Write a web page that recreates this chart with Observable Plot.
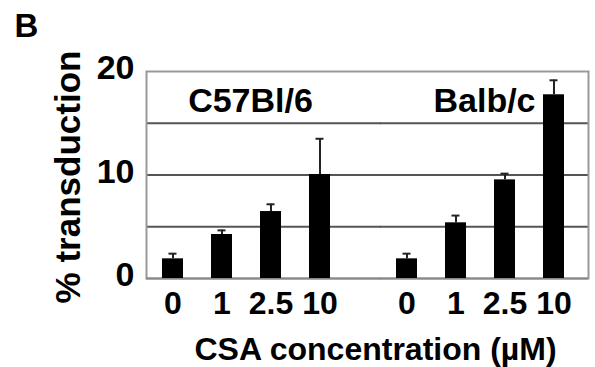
<!DOCTYPE html>
<html>
<head>
<meta charset="utf-8">
<script src="https://cdn.jsdelivr.net/npm/d3@7"></script>
<script src="https://cdn.jsdelivr.net/npm/@observablehq/plot@0.6"></script>
<style>
  html, body { margin: 0; padding: 0; background: #fff; }
  #chart svg { display: block; }
</style>
</head>
<body>
<div id="chart"></div>
<script>
const strains = ["C57Bl/6", "Balb/c"];
const concentrations = ["0", "1", "2.5", "10"];
const c57Values = [1.9, 4.25, 6.47, 10.05];
const c57Errors = [0.5, 0.4, 0.7, 3.45];
const balbValues = [1.9, 5.38, 9.53, 17.75];
const balbErrors = [0.5, 0.7, 0.6, 1.4];
const yTicks = [0, 10, 20];
const gridValues = [5, 10, 15];

const rows = [];
concentrations.forEach((c, i) => rows.push({strain: strains[0], conc: c, value: c57Values[i], err: c57Errors[i]}));
concentrations.forEach((c, i) => rows.push({strain: strains[1], conc: c, value: balbValues[i], err: balbErrors[i]}));

const font = "'Liberation Sans', Arial, sans-serif";
const gap = 27;

const chart = Plot.plot({
  width: 595,
  height: 367,
  marginLeft: 145,
  marginRight: 6,
  marginTop: 71,
  marginBottom: 89,
  style: {fontFamily: font, background: "#fff", color: "#000"},
  fx: {domain: strains, paddingInner: 0.1106, paddingOuter: 0, axis: null, label: null},
  x: {domain: concentrations, paddingInner: 0.577, paddingOuter: 0.391, align: 0.4, axis: null, label: null},
  y: {domain: [0, 20], axis: null, label: null},
  marks: [
    Plot.ruleY(gridValues, {fx: () => strains[0], insetRight: -gap, stroke: "#555", strokeWidth: 2}),
    Plot.ruleY(gridValues, {fx: () => strains[1], stroke: "#555", strokeWidth: 2}),
    Plot.frame({facet: "super", stroke: "#999", strokeWidth: 2}),
    Plot.ruleY([0], {fx: () => strains[0], insetRight: -gap, stroke: "#888", strokeWidth: 2}),
    Plot.ruleY([0], {fx: () => strains[1], stroke: "#888", strokeWidth: 2}),
    Plot.ruleX(rows, {fx: "strain", x: "conc", y1: "value", y2: d => d.value + d.err, stroke: "#222", strokeWidth: 2}),
    Plot.tickY(rows, {fx: "strain", x: "conc", y: d => d.value + d.err, stroke: "#222", strokeWidth: 2, insetLeft: 6.5, insetRight: 6.5}),
    Plot.barY(rows, {fx: "strain", x: "conc", y: "value", fill: "#000"}),
    Plot.text(strains, {fx: d => d, text: d => d, frameAnchor: "top", lineAnchor: "top", dy: 16, fontSize: 34, fontWeight: "bold", fill: "#000"}),
    Plot.axisY({ticks: yTicks, tickSize: 0, tickPadding: 12, fontSize: 34, fontWeight: "bold", label: null, dy: -3}),
    Plot.axisX({tickSize: 0, tickPadding: 13, fontSize: 32, fontWeight: "bold", label: null}),
    Plot.text(["% transduction"], {facet: "super", text: d => d, frameAnchor: "left", rotate: -90, lineAnchor: "middle", textAnchor: "middle", dx: -78, dy: 2, fontSize: 35, fontWeight: "bold", fill: "#000"}),
    Plot.text(["CSA concentration (\u00b5M)"], {facet: "super", text: d => d, frameAnchor: "bottom", lineAnchor: "middle", textAnchor: "middle", dx: 8, dy: 71, fontSize: 32, fontWeight: "bold", fill: "#000"}),
    Plot.text(["B"], {facet: "super", text: d => d, frameAnchor: "top-left", lineAnchor: "top", textAnchor: "start", dx: -132, dy: -58, fontSize: 33, fontWeight: "bold", fill: "#000"})
  ]
});
document.getElementById("chart").appendChild(chart);
</script>
</body>
</html>
